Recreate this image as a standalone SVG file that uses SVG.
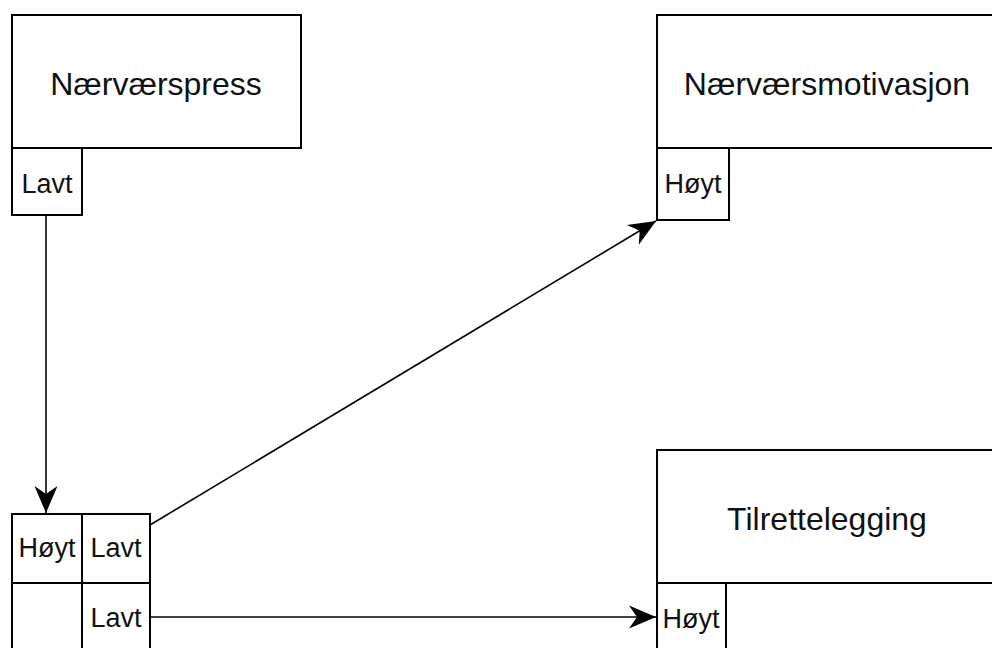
<svg xmlns="http://www.w3.org/2000/svg" width="992" height="648" viewBox="0 0 992 648">
<style>
.box{fill:#fff;stroke:#000;stroke-width:2}
.t{font-family:"Liberation Sans",Arial,sans-serif;font-size:32px;fill:#111;text-anchor:middle}
.s{font-family:"Liberation Sans",Arial,sans-serif;font-size:27px;fill:#111;text-anchor:middle}
.c{fill:none;stroke:#000;stroke-width:1.6}
</style>
<defs>
<marker id="ah" markerUnits="userSpaceOnUse" markerWidth="30" markerHeight="26" viewBox="-28 -13 30 26" refX="0" refY="0" orient="auto">
<path d="M0,0 L-27,-11.5 L-19,0 L-27,11.5 Z" fill="#000"/>
</marker>
</defs>
<rect width="992" height="648" fill="#fff"/>
<g id="naervaerspress">
<rect class="box" x="12" y="15" width="289" height="133"/>
<text class="t" x="156" y="95">Nærværspress</text>
</g>
<g id="naervaerspress-lavt">
<rect class="box" x="12" y="148" width="70" height="67"/>
<text class="s" x="47" y="193">Lavt</text>
</g>
<g id="naervaersmotivasjon">
<rect class="box" x="657" y="15" width="345" height="133"/>
<text class="t" x="827" y="95">Nærværsmotivasjon</text>
</g>
<g id="naervaersmotivasjon-hoyt">
<rect class="box" x="657" y="148" width="72" height="72"/>
<text class="s" x="693" y="193">Høyt</text>
</g>
<g id="tilrettelegging">
<rect class="box" x="657" y="450" width="345" height="133"/>
<text class="t" x="827" y="530">Tilrettelegging</text>
</g>
<g id="tilrettelegging-hoyt">
<rect class="box" x="657" y="583" width="69" height="75"/>
<text class="s" x="691" y="628">Høyt</text>
</g>
<g id="matrix">
<rect class="box" x="12" y="514" width="70" height="69"/>
<text class="s" x="47" y="557">Høyt</text>
<rect class="box" x="82" y="514" width="68" height="69"/>
<text class="s" x="116" y="557">Lavt</text>
<rect class="box" x="12" y="583" width="70" height="75"/>
<rect class="box" x="82" y="583" width="68" height="75"/>
<text class="s" x="116" y="627">Lavt</text>
</g>
<g id="connectors">
<line class="c" x1="46" y1="215" x2="46" y2="513" marker-end="url(#ah)"/>
<line class="c" x1="150" y1="525" x2="656" y2="221" marker-end="url(#ah)"/>
<line class="c" x1="150" y1="617" x2="656" y2="617" marker-end="url(#ah)"/>
</g>
</svg>
